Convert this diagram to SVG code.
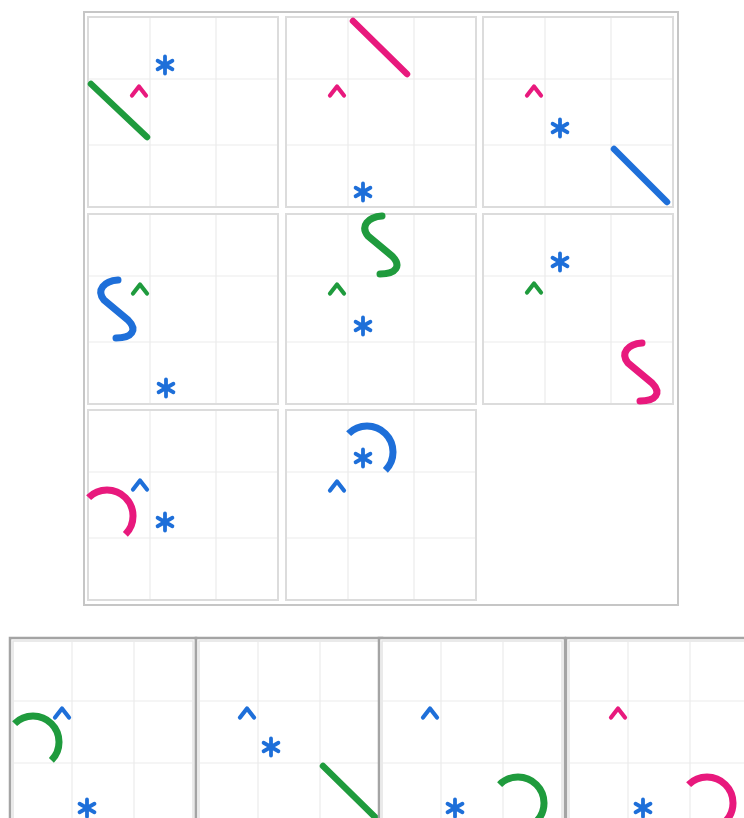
<svg xmlns="http://www.w3.org/2000/svg" xmlns:xlink="http://www.w3.org/1999/xlink" width="744" height="818" viewBox="0 0 744 818">
<style>
.frame{fill:#ffffff;stroke:#c6c6c6;stroke-width:2}
.cell{fill:#ffffff;stroke:#dcdcdc;stroke-width:2}
.grid{stroke:#ececec;stroke-width:1.2;fill:none}
.abox{fill:#ffffff;stroke:#a4a4a4;stroke-width:2.5}
.sym{fill:none;stroke-linecap:round;stroke-linejoin:round}
.pink{stroke:#e8197d}
.green{stroke:#1f9b3d}
.blue{stroke:#1e6fd9}
.ln{stroke-width:6.5}
.sc{stroke-width:7}
.car{stroke-width:4.2}
.ast{stroke-width:3.8}
</style>
<defs>
<path id="caret" d="M-7,4.5 L0,-4.5 L7,4.5"/>
<path id="aster" d="M0,-8.5 V8.5 M-7.4,-4.25 L7.4,4.25 M-7.4,4.25 L7.4,-4.25"/>
<path id="scurve" d="M0,0 C-14,1 -22,10 -14,20 L10,40 C20,50 14,58 -2,58"/>
<path id="arc" d="M-18.4,-18.4 A26,26 0 0 1 18.4,18.4"/>
<g id="cellgrid">
<rect class="cell" x="0" y="0" width="190" height="190"/>
<path class="grid" d="M62,1 V189 M128,1 V189 M1,62 H189 M1,128 H189"/>
</g>
<g id="boxgrid">
<rect class="abox" x="0" y="0" width="186" height="200"/>
<rect class="cell" x="3" y="3" width="180" height="200" style="stroke:#e4e4e4;stroke-width:1.5"/>
<path class="grid" d="M62,4 V200 M124,4 V200 M4,63 H183 M4,125 H183"/>
</g>
</defs>

<rect class="frame" x="84" y="12" width="594" height="593"/>

<g id="cell-1">
<use xlink:href="#cellgrid" x="88" y="17"/>
<line class="sym green ln" x1="91" y1="84" x2="147" y2="137"/>
<use class="sym pink car" xlink:href="#caret" x="139" y="91"/>
<use class="sym blue ast" xlink:href="#aster" x="165" y="65"/>
</g>
<g id="cell-2">
<use xlink:href="#cellgrid" x="286" y="17"/>
<line class="sym pink ln" x1="353" y1="21" x2="407" y2="74"/>
<use class="sym pink car" xlink:href="#caret" x="337" y="91"/>
<use class="sym blue ast" xlink:href="#aster" x="363" y="192"/>
</g>
<g id="cell-3">
<use xlink:href="#cellgrid" x="483" y="17"/>
<line class="sym blue ln" x1="614" y1="149" x2="667" y2="202"/>
<use class="sym pink car" xlink:href="#caret" x="534" y="91"/>
<use class="sym blue ast" xlink:href="#aster" x="560" y="128"/>
</g>
<g id="cell-4">
<use xlink:href="#cellgrid" x="88" y="214"/>
<use class="sym blue sc" xlink:href="#scurve" x="118" y="280"/>
<use class="sym green car" xlink:href="#caret" x="140" y="289"/>
<use class="sym blue ast" xlink:href="#aster" x="166" y="388"/>
</g>
<g id="cell-5">
<use xlink:href="#cellgrid" x="286" y="214"/>
<use class="sym green sc" xlink:href="#scurve" x="382" y="216"/>
<use class="sym green car" xlink:href="#caret" x="337" y="289"/>
<use class="sym blue ast" xlink:href="#aster" x="363" y="326"/>
</g>
<g id="cell-6">
<use xlink:href="#cellgrid" x="483" y="214"/>
<use class="sym pink sc" xlink:href="#scurve" x="642" y="343"/>
<use class="sym green car" xlink:href="#caret" x="534" y="288"/>
<use class="sym blue ast" xlink:href="#aster" x="560" y="262"/>
</g>
<g id="cell-7">
<use xlink:href="#cellgrid" x="88" y="410"/>
<use class="sym pink sc" xlink:href="#arc" x="107" y="516" style="stroke-linecap:butt"/>
<use class="sym blue car" xlink:href="#caret" x="140" y="485"/>
<use class="sym blue ast" xlink:href="#aster" x="165" y="522"/>
</g>
<g id="cell-8">
<use xlink:href="#cellgrid" x="286" y="410"/>
<use class="sym blue sc" xlink:href="#arc" x="367" y="452" style="stroke-linecap:butt"/>
<use class="sym blue car" xlink:href="#caret" x="337" y="486"/>
<use class="sym blue ast" xlink:href="#aster" x="363" y="458"/>
</g>

<g id="option-1">
<use xlink:href="#boxgrid" x="10" y="638"/>
<use class="sym green sc" xlink:href="#arc" x="33" y="742" style="stroke-linecap:butt"/>
<use class="sym blue car" xlink:href="#caret" x="62" y="713"/>
<use class="sym blue ast" xlink:href="#aster" x="87" y="808"/>
</g>
<g id="option-2">
<use xlink:href="#boxgrid" x="196" y="638"/>
<line class="sym green ln" x1="323" y1="766" x2="376" y2="818"/>
<use class="sym blue car" xlink:href="#caret" x="247" y="713"/>
<use class="sym blue ast" xlink:href="#aster" x="271" y="747"/>
</g>
<g id="option-3">
<use xlink:href="#boxgrid" x="379" y="638"/>
<use class="sym green sc" xlink:href="#arc" x="518" y="803" style="stroke-linecap:butt"/>
<use class="sym blue car" xlink:href="#caret" x="430" y="713"/>
<use class="sym blue ast" xlink:href="#aster" x="455" y="808"/>
</g>
<g id="option-4">
<use xlink:href="#boxgrid" x="566" y="638"/>
<use class="sym pink sc" xlink:href="#arc" x="707" y="803" style="stroke-linecap:butt"/>
<use class="sym pink car" xlink:href="#caret" x="618" y="713"/>
<use class="sym blue ast" xlink:href="#aster" x="643" y="808"/>
</g>
</svg>
